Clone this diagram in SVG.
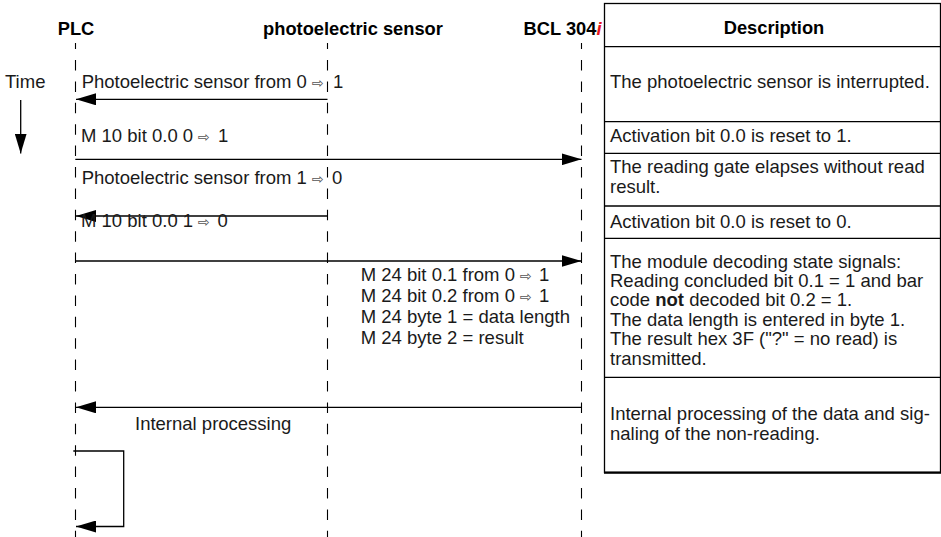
<svg xmlns="http://www.w3.org/2000/svg" width="941" height="537" viewBox="0 0 941 537">
<style>
text{font-family:"Liberation Sans",Arial,Helvetica,sans-serif;font-size:18.5px;fill:#1a1a1a}
.h{font-weight:bold;font-size:18.3px;fill:#000}
.ar{font-family:"DejaVu Sans",sans-serif;font-size:14.5px;fill:#555}
.life{stroke:#000;stroke-width:1.1;stroke-dasharray:10.5 10.9;stroke-dashoffset:4.4;fill:none}
.msg{stroke:#000;stroke-width:1.3;fill:none;marker-end:url(#ah)}
.tbl{stroke:#000;stroke-width:1.3;fill:none}
</style>
<defs>
<marker id="ah" markerUnits="userSpaceOnUse" viewBox="0 0 20 12" markerWidth="20" markerHeight="12" refX="20" refY="6" orient="auto">
<path d="M0,0 L20,6 L0,12 Z" fill="#000"/>
</marker>
</defs>
<rect width="941" height="537" fill="#fff"/>

<g id="lifeline-plc">
<text class="h" x="76" y="34.5" text-anchor="middle">PLC</text>
<line class="life" x1="75.5" y1="43" x2="75.5" y2="537"/>
</g>
<g id="lifeline-sensor">
<text class="h" x="353" y="34.5" text-anchor="middle">photoelectric sensor</text>
<line class="life" x1="327.5" y1="43" x2="327.5" y2="537"/>
</g>
<g id="lifeline-bcl">
<text class="h" x="601.5" y="34.5" text-anchor="end">BCL 304<tspan fill="#e8141c" font-style="italic">i</tspan></text>
<line class="life" x1="581.5" y1="43" x2="581.5" y2="537"/>
</g>

<g id="time">
<text x="5" y="88" font-size="18px">Time</text>
</g>

<g id="connectors">
<line class="msg" x1="20.7" y1="100" x2="20.7" y2="153.5"/>
<line class="msg" x1="327.5" y1="99.3" x2="76" y2="99.3"/>
<line class="msg" x1="75.3" y1="159.3" x2="581.5" y2="159.3"/>
<line class="msg" x1="327.5" y1="216" x2="76" y2="216"/>
<line class="msg" x1="75.3" y1="261" x2="581.5" y2="261"/>
<line class="msg" x1="581.7" y1="407.3" x2="76" y2="407.3"/>
<path class="msg" d="M73.3,451 H123.7 V526.5 H76"/>
</g>

<g id="labels">
<text x="81.7" y="88">Photoelectric sensor from 0 <tspan class="ar" x="312" y="88">⇨</tspan><tspan x="333" y="88">1</tspan></text>
<text x="81" y="142">M 10 bit 0.0 0 <tspan class="ar" x="198" y="142">⇨</tspan><tspan x="218" y="142">1</tspan></text>
<text x="81.7" y="183.5">Photoelectric sensor from 1 <tspan class="ar" x="312" y="183.5">⇨</tspan><tspan x="332" y="183.5">0</tspan></text>
<text x="81" y="226.7">M 10 bit 0.0 1 <tspan class="ar" x="198" y="226.7">⇨</tspan><tspan x="217.5" y="226.7">0</tspan></text>
<text x="360.7" y="280.5">M 24 bit 0.1 from 0 <tspan class="ar" x="520" y="280.5">⇨</tspan><tspan x="539" y="280.5">1</tspan></text>
<text x="360.7" y="301.7">M 24 bit 0.2 from 0 <tspan class="ar" x="520" y="301.7">⇨</tspan><tspan x="539" y="301.7">1</tspan></text>
<text x="360.7" y="323">M 24 byte 1 = data length</text>
<text x="360.7" y="344.2">M 24 byte 2 = result</text>
<text x="135" y="430">Internal processing</text>
</g>

<g id="description-table">
<rect class="tbl" x="604.5" y="3.5" width="336" height="469"/>
<line class="tbl" x1="604" y1="46.7" x2="941" y2="46.7"/>
<line class="tbl" x1="604" y1="121.7" x2="941" y2="121.7"/>
<line class="tbl" x1="604" y1="153.3" x2="941" y2="153.3"/>
<line class="tbl" x1="604" y1="206" x2="941" y2="206"/>
<line class="tbl" x1="604" y1="238.3" x2="941" y2="238.3"/>
<line class="tbl" x1="604" y1="377.3" x2="941" y2="377.3"/>
<line x1="604" y1="472.7" x2="941" y2="472.7" stroke="#000" stroke-width="2.2"/>
<text class="h" x="774" y="34" text-anchor="middle" font-size="21px">Description</text>
<text x="610" y="88">The photoelectric sensor is interrupted.</text>
<text x="610" y="142">Activation bit 0.0 is reset to 1.</text>
<text x="610" y="173">The reading gate elapses without read</text>
<text x="610" y="192.7">result.</text>
<text x="610" y="227.7">Activation bit 0.0 is reset to 0.</text>
<text x="610" y="267.5">The module decoding state signals:</text>
<text x="610" y="286.8">Reading concluded bit 0.1 = 1 and bar</text>
<text x="610" y="306.2">code <tspan font-weight="bold">not</tspan> decoded bit 0.2 = 1.</text>
<text x="610" y="325.6">The data length is entered in byte 1.</text>
<text x="610" y="345">The result hex 3F ("?" = no read) is</text>
<text x="610" y="364.5">transmitted.</text>
<text x="610" y="420">Internal processing of the data and sig-</text>
<text x="610" y="440">naling of the non-reading.</text>
</g>
</svg>
